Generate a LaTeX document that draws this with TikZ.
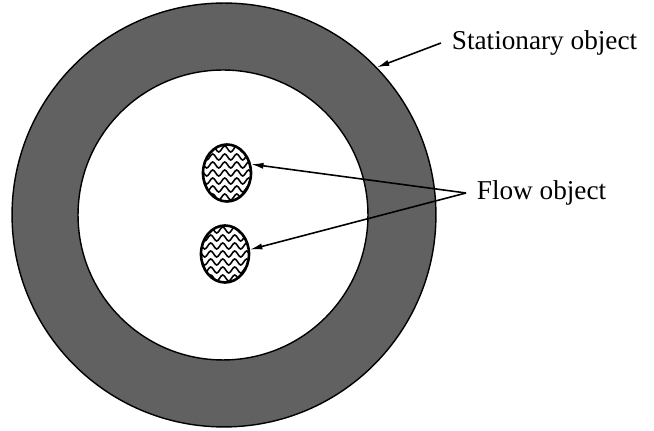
\documentclass[tikz,border=0pt]{standalone}
\usepackage{fontspec}
\setmainfont{Liberation Serif}
\usetikzlibrary{shapes.geometric,arrows.meta,decorations.pathmorphing}

\begin{document}
\begin{tikzpicture}[x=0.02cm,y=-0.02cm,
  ringedge/.style={circle,draw=black,line width=0.8pt,inner sep=0pt},
  blob/.style={ellipse,draw=black,line width=1.5pt,inner sep=0pt,
    minimum width=0.96cm,minimum height=1.14cm},
  objtext/.style={font=\fontsize{15.5}{18}\selectfont,inner sep=6pt,anchor=west},
  pointer/.style={line width=0.9pt,-{Latex[length=7pt,width=3.5pt]}}]

  \useasboundingbox (0,0) rectangle (654,431);

  % the ring
  \node[ringedge,fill=black!62,minimum size=8.48cm] (outer) at (224,215) {};
  \node[ringedge,fill=white,minimum size=5.8cm] (inner) at (223,215) {};

  % flow objects with wavy filling
  \foreach \n/\x/\y in {f1/227/173, f2/225/254} {
    \begin{scope}
      \clip (\x,\y) ellipse [x radius=0.48cm, y radius=0.57cm];
      \foreach \k in {-3,...,3}
        \draw[line width=0.9pt,decorate,
              decoration={snake,amplitude=0.06cm,segment length=0.24cm}]
          ([xshift=-0.6cm,yshift=\k*0.16cm]\x,\y) -- ++(1.2cm,0);
    \end{scope}
    \node[blob] (\n) at (\x,\y) {};
  }

  \node[objtext] (stat) at (441,43) {Stationary object};
  \node[objtext] (flow) at (466,193) {Flow object};

  \draw[pointer] (stat.west) -- (outer.44);
  \draw[pointer] (flow.west) -- (f1.20);
  \draw[pointer] (flow.west) -- (f2.10);

\end{tikzpicture}
\end{document}
